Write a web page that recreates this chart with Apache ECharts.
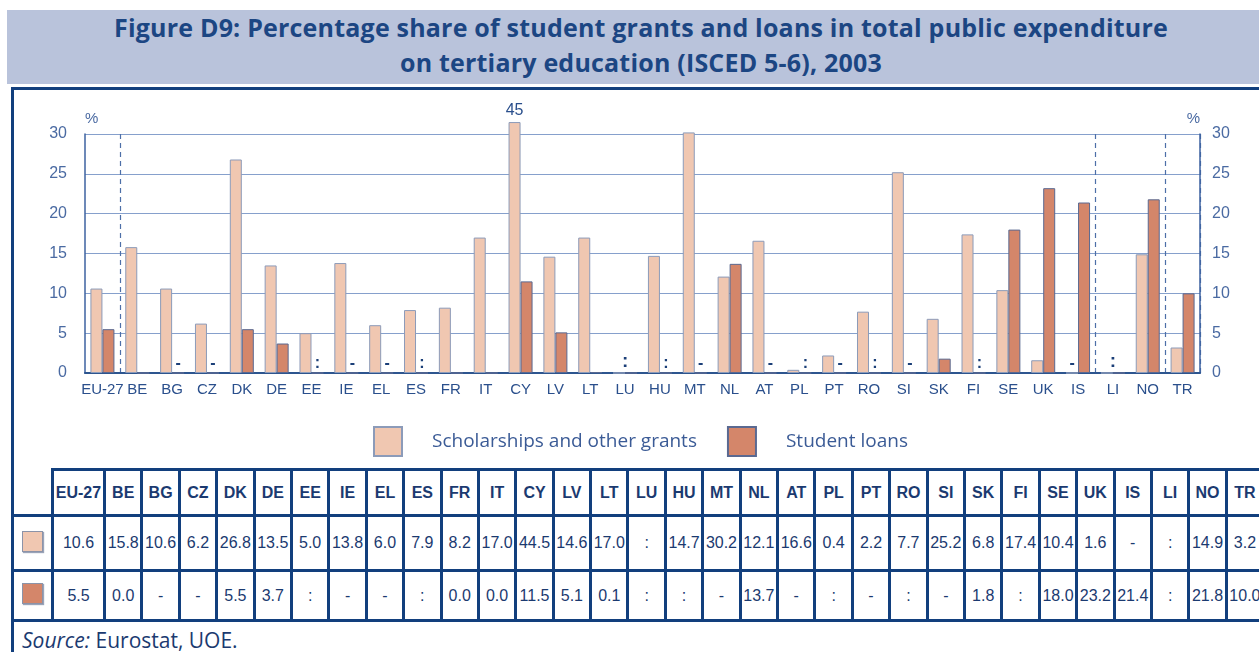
<!DOCTYPE html>
<html>
<head>
<meta charset="utf-8">
<script src="https://cdn.jsdelivr.net/npm/echarts@6/dist/echarts.min.js"></script>
<style>
  html, body { margin: 0; padding: 0; background: #fff; }
  body { width: 1259px; height: 652px; overflow: hidden; position: relative; }
  #title {
    position: absolute; left: 7px; top: 10px; width: 1268px; height: 74px;
    background: #b9c3db; color: #1c4683; text-align: center;
    font-family: "Open Sans", sans-serif; font-weight: bold; font-size: 25px; line-height: 35px;
    letter-spacing: 0.2px; box-sizing: border-box;
  }
  #frame {
    position: absolute; left: 11px; top: 87px; width: 1270px; height: 600px;
    border-left: 3px solid #123f7d; border-top: 3px solid #123f7d;
  }
  #chart { position: absolute; left: 0; top: 0; width: 1259px; height: 466px; }
  #tbl {
    position: absolute; left: 11px; top: 468px; border-collapse: collapse; table-layout: fixed;
    font-family: "Liberation Sans", Arial, sans-serif; color: #1b3a70;
  }
  #tbl td { border: 3px solid #123f7d; text-align: center; padding: 0; font-size: 16px; white-space: nowrap; overflow: hidden; }
  #tbl tr.head td { height: 43px; font-weight: bold; font-size: 16px; }
  #tbl tr.r1 td { height: 52px; }
  #tbl tr.r2 td { height: 47px; }
  #tbl tr.src td { height: 40px; text-align: left; padding-left: 8px; border-right: none; border-bottom: none;
    font-family: "Open Sans", sans-serif; font-size: 21px; vertical-align: top; padding-top: 4px; }
  #tbl td.blank { border-top: none; }
  .sw { display: inline-block; width: 19px; height: 19px; border: 1px solid #8b93a8; box-shadow: 1px 1px 1px #9aa3b8; }
</style>
</head>
<body>
<div id="title">Figure D9: Percentage share of student grants and loans in total public expenditure<br>on tertiary education (ISCED 5-6), 2003</div>
<div id="frame"></div>
<div id="chart"></div>
<table id="tbl"></table>
<script>
// countries, in chart order
var categories = ['EU-27', 'BE', 'BG', 'CZ', 'DK', 'DE', 'EE', 'IE', 'EL', 'ES', 'FR', 'IT', 'CY', 'LV', 'LT', 'LU',
    'HU', 'MT', 'NL', 'AT', 'PL', 'PT', 'RO', 'SI', 'SK', 'FI', 'SE', 'UK', 'IS', 'LI', 'NO', 'TR'];
// ':' = not available, '-' = not applicable
var grants = [10.6, 15.8, 10.6, 6.2, 26.8, 13.5, 5.0, 13.8, 6.0, 7.9, 8.2, 17.0, 44.5, 14.6, 17.0, ':',
    14.7, 30.2, 12.1, 16.6, 0.4, 2.2, 7.7, 25.2, 6.8, 17.4, 10.4, 1.6, '-', ':', 14.9, 3.2];
var loans = [5.5, 0.0, '-', '-', 5.5, 3.7, ':', '-', '-', ':', 0.0, 0.0, 11.5, 5.1, 0.1, ':',
    ':', '-', 13.7, '-', ':', '-', ':', '-', 1.8, ':', 18.0, 23.2, 21.4, ':', 21.8, 10.0];
var yTicks = [0, 5, 10, 15, 20, 25, 30];
var separatorsBefore = ['BE', 'LI', 'TR'];
var seriesNames = ['Scholarships and other grants', 'Student loans'];

var AXIS_MAX = 30;
var CAP = 31.5;   // bars taller than this are cut here (broken bar)
var narrow = '"Liberation Sans", Arial, sans-serif';
var blue = '#2a4f8c';

function barData(values, other, isLoan) {
    return values.map(function (v, i) {
        if (typeof v === 'number') {
            if (v > CAP) {
                return {
                    value: CAP,
                    label: {show: true, position: 'top', distance: 3, formatter: String(Math.round(v)),
                        fontFamily: narrow, fontSize: 16, color: blue}
                };
            }
            return v;
        }
        // missing value: small marker on the baseline
        var both = v === ':' && other[i] === ':';
        if (both && isLoan) return 0;
        return {
            value: 0,
            label: {show: true, position: 'top', distance: 1, formatter: v,
                offset: both ? [6, 0] : [0, 0],
                fontFamily: narrow, fontSize: both ? 19 : 16, fontWeight: 'bold', color: '#1b3f78'}
        };
    });
}

var myChart = echarts.init(document.getElementById('chart'), null, {renderer: 'canvas'});
var yAxisBase = {
    type: 'value',
    min: 0,
    max: AXIS_MAX,
    interval: 5,
    name: '%',
    nameLocation: 'end',
    nameGap: 8,
    axisLine: {show: true, lineStyle: {color: '#3d62a0', width: 1.5}},
    axisTick: {show: false},
    splitLine: {show: true, lineStyle: {color: '#86a0cc', width: 1.2}},
    axisLabel: {fontFamily: narrow, fontSize: 16, color: '#4a6aa2'}
};
option = {
    animation: false,
    grid: {left: 85, right: 59, top: 134, bottom: 93},
    legend: {
        top: 421,
        left: 368,
        itemWidth: 28,
        itemHeight: 29,
        itemGap: 30,
        icon: 'rect',
        textStyle: {fontFamily: '"Open Sans", sans-serif', fontSize: 19, color: '#3b5b96', padding: [0, 0, 0, 25]},
        data: seriesNames
    },
    xAxis: {
        type: 'category',
        data: categories,
        axisLine: {show: true, lineStyle: {color: '#2d558f', width: 2}},
        axisTick: {show: false},
        axisLabel: {fontFamily: narrow, fontSize: 15, color: blue, margin: 9, interval: 0},
        splitLine: {
            show: true,
            interval: function (index, value) {
                return separatorsBefore.indexOf(value) >= 0;
            },
            lineStyle: {color: '#4d6fa8', type: [5, 4], width: 1.2}
        }
    },
    yAxis: [
        Object.assign({}, yAxisBase, {
            position: 'left',
            nameTextStyle: {align: 'left', fontFamily: narrow, fontSize: 15, color: '#4a6aa2'},
            axisLabel: Object.assign({}, yAxisBase.axisLabel, {margin: 18})
        }),
        Object.assign({}, yAxisBase, {
            position: 'right',
            splitLine: {show: false},
            nameTextStyle: {align: 'right', fontFamily: narrow, fontSize: 15, color: '#4a6aa2'},
            axisLabel: Object.assign({}, yAxisBase.axisLabel, {margin: 12})
        })
    ],
    series: [
        {
            name: seriesNames[0],
            type: 'bar',
            barWidth: 12,
            barGap: 0,
            clip: false,
            itemStyle: {color: '#f0c7b1', borderColor: '#8c9bb9', borderWidth: 1},
            data: barData(grants, loans, false)
        },
        {
            name: seriesNames[1],
            type: 'bar',
            barWidth: 12,
            barGap: 0,
            clip: false,
            itemStyle: {color: '#d4866a', borderColor: '#5a6991', borderWidth: 1},
            data: barData(loans, grants, true)
        }
    ]
};
myChart.setOption(option);

// data table under the chart
function fmt(v) {
    return typeof v === 'number' ? v.toFixed(1) : v;
}
var widths = [40, 52].concat(categories.slice(1).map(function () { return 37.4; }));
var html = '<colgroup>' + widths.map(function (w) { return '<col style="width:' + w + 'px">'; }).join('') + '</colgroup>';
html += '<tr class="head"><td class="blank"></td>' + categories.map(function (c) { return '<td>' + c + '</td>'; }).join('') + '</tr>';
html += '<tr class="r1"><td><span class="sw" style="background:#f0c7b1"></span></td>' +
    grants.map(function (v) { return '<td>' + fmt(v) + '</td>'; }).join('') + '</tr>';
html += '<tr class="r2"><td><span class="sw" style="background:#d4866a"></span></td>' +
    loans.map(function (v) { return '<td>' + fmt(v) + '</td>'; }).join('') + '</tr>';
html += '<tr class="src"><td colspan="' + (categories.length + 1) + '"><i>Source:</i> Eurostat, UOE.</td></tr>';
var tbl = document.getElementById('tbl');
tbl.innerHTML = html;
tbl.style.width = widths.reduce(function (a, b) { return a + b; }, 0) + 'px';
</script>
</body>
</html>
